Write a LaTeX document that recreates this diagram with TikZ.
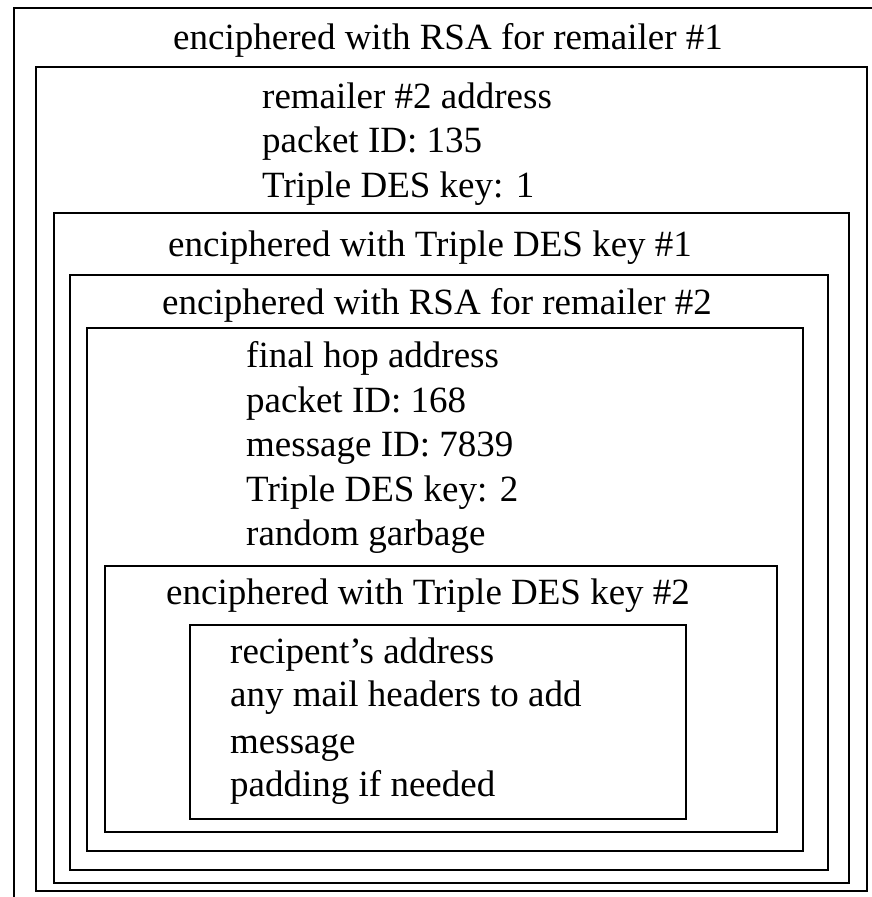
\documentclass[tikz,border=0pt]{standalone}
\usepackage{fontspec}
\setmainfont{Liberation Serif}
\usetikzlibrary{positioning}

\begin{document}
\begin{tikzpicture}[x=1pt, y=-1pt, box/.style={draw, line width=2pt},
  every node/.style={inner sep=0pt, anchor=base west, font=\fontsize{37}{44}\selectfont}]
  \useasboundingbox (0,0) rectangle (872,897);
  \clip (0,0) rectangle (872,897);
  % nested layers of the packet
  \draw[box] (14,8) rectangle (900,920);
  \draw[box] (36,67) rectangle (867,891);
  \draw[box] (54,213) rectangle (849,883);
  \draw[box] (70,275) rectangle (828,870);
  \draw[box] (87,328) rectangle (803,851);
  \draw[box] (105,566) rectangle (777,832);
  \draw[box] (190,625) rectangle (686,819);
  \node (rsa1) at (173,49) {enciphered with RSA for remailer \#1};
  \node (hop1) at (262,108) {remailer \#2 address};
  \node (pid1) at (262,152) {packet ID: 135};
  \node (key1) at (262,197) {Triple DES key: 1};
  \node (des1) at (168,256) {enciphered with Triple DES key \#1};
  \node (rsa2) at (162,314) {enciphered with RSA for remailer \#2};
  \node (hop2) at (246,367) {final hop address};
  \node (pid2) at (246,412) {packet ID: 168};
  \node (mid2) at (246,456) {message ID: 7839};
  \node (key2) at (246,501) {Triple DES key: 2};
  \node (junk) at (246,545) {random garbage};
  \node (des2) at (166,604) {enciphered with Triple DES key \#2};
  \node (rcpt) at (230,663) {recipent’s address};
  \node (hdrs) at (230,706) {any mail headers to add};
  \node (msg) at (230,753) {message};
  \node (pad) at (230,796) {padding if needed};
\end{tikzpicture}
\end{document}
